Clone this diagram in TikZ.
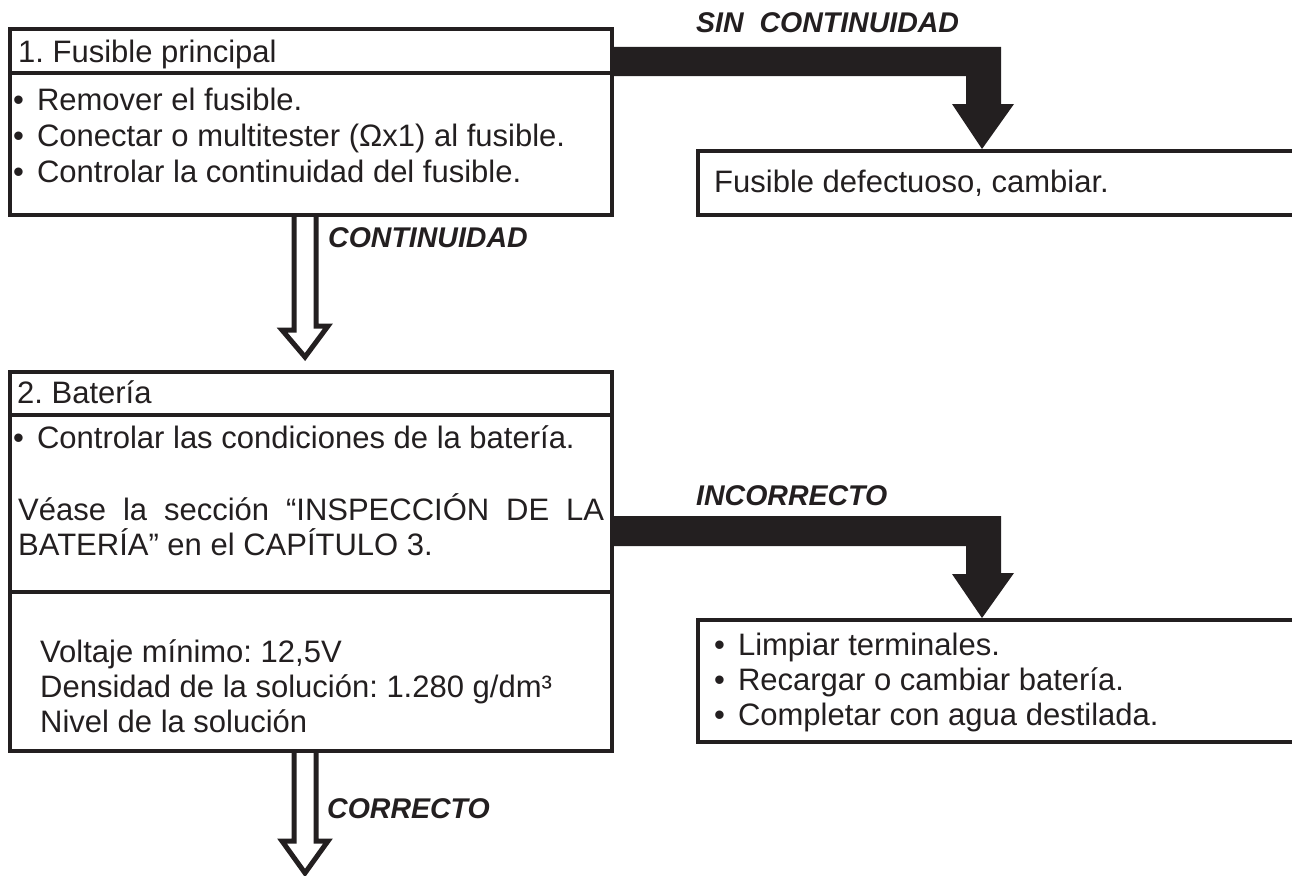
\documentclass[tikz,border=0pt]{standalone}
\usepackage{fontspec}
\setmainfont{Liberation Sans}
\usetikzlibrary{calc}
\definecolor{ink}{RGB}{35,31,32}
\newcommand{\bulitem}{•\hspace{0.42em}}
\frenchspacing
\begin{document}
\begin{tikzpicture}[x=1pt,y=-1pt,
  box/.style={draw=ink, line width=4pt, fill=white, inner sep=0pt, anchor=north west},
  divider/.style={draw=ink, line width=4pt},
  body/.style={anchor=base west, inner sep=0pt, text=ink, font=\fontsize{31}{37}\selectfont},
  lbl/.style={anchor=base west, inner sep=0pt, text=ink, font=\fontsize{28.5}{34}\selectfont\bfseries\itshape},
  hollow/.style={draw=ink, line width=5pt, fill=white, miter limit=10},
  fatarrow/.style={fill=ink, draw=none}]
\useasboundingbox (0,0) rectangle (1292,875);
\clip (0,0) rectangle (1292,875);

% boxes
\node[box, minimum width=602pt, minimum height=186pt] (b1) at (8,27) {};
\node[box, minimum width=620pt, minimum height=64pt] (fd) at (696,149) {};
\node[box, minimum width=602pt, minimum height=379pt] (b2) at (8,370) {};
\node[box, minimum width=620pt, minimum height=122pt] (b3) at (696,618) {};

% dividers
\draw[divider] ($(b1.north west)+(0,46)$) -- ($(b1.north east)+(0,46)$);
\draw[divider] ($(b2.north west)+(0,45)$) -- ($(b2.north east)+(0,45)$);
\draw[divider] ($(b2.north west)+(0,222)$) -- ($(b2.north east)+(0,222)$);

% box 1 texts
\node[body] (t11) at (18,63) {1. Fusible principal};
\node[body] (t12) at (13,110) {\bulitem Remover el fusible.};
\node[body] (t13) at (13,146) {\bulitem Conectar o multitester (Ωx1) al fusible.};
\node[body] (t14) at (13,182) {\bulitem Controlar la continuidad del fusible.};

% fuse defective
\node[body] (tfd) at (714,192) {Fusible defectuoso, cambiar.};

% box 2 texts
\node[body] (t21) at (17,403) {2. Batería};
\node[body] (t22) at (13,448) {\bulitem Controlar las condiciones de la batería.};
\node[body] (t23) at (18,520) {\makebox[586pt][s]{Véase la sección “INSPECCIÓN DE LA}};
\node[body] (t24) at (18,555) {BATERÍA” en el CAPÍTULO 3.};
\node[body] (t25) at (40,662) {Voltaje mínimo: 12,5V};
\node[body] (t26) at (40,697) {Densidad de la solución: 1.280 g/dm³};
\node[body] (t27) at (40,732) {Nivel de la solución};

% box 3 texts
\node[body] (t31) at (714,655) {\bulitem Limpiar terminales.};
\node[body] (t32) at (714,690) {\bulitem Recargar o cambiar batería.};
\node[body] (t33) at (714,725) {\bulitem Completar con agua destilada.};

% labels
\node[lbl] (l1) at (696,33) {SIN\ \ CONTINUIDAD};
\node[lbl] (l2) at (328,247) {CONTINUIDAD};
\node[lbl] (l3) at (696,505) {INCORRECTO};
\node[lbl] (l4) at (327,818) {CORRECTO};

% hollow arrows
\draw[hollow] ($(b1.south)+(-17,0)$) -- ++(0,113) -- ++(-12,0)
  -- ($(b2.north)+(-6,-13)$) -- ++(23,-31) -- ++(-12,0) -- ($(b1.south)+(5,0)$);
\coordinate (endpt) at ($(b2.south)+(-6,120)$);
\draw[hollow] ($(b2.south)+(-17,0)$) -- ++(0,88) -- ++(-12,0)
  -- (endpt) -- ++(23,-32) -- ++(-12,0) -- ($(b2.south)+(5,0)$);

% black arrows
\fill[fatarrow] ($(b1.north east)+(0,20)$) -- ++(387,0) -- ++(0,57) -- ++(13,0)
  -- ($(fd.north west)+(286,0)$) -- ++(-30,-45) -- ++(14,0) -- ++(0,-28)
  -- ($(b1.north east)+(0,49)$) -- cycle;
\fill[fatarrow] ($(b2.north east)+(0,146)$) -- ++(387,0) -- ++(0,57) -- ++(13,0)
  -- ($(b3.north west)+(286,0)$) -- ++(-30,-44) -- ++(14,0) -- ++(0,-28)
  -- ($(b2.north east)+(0,176)$) -- cycle;
\end{tikzpicture}
\end{document}
